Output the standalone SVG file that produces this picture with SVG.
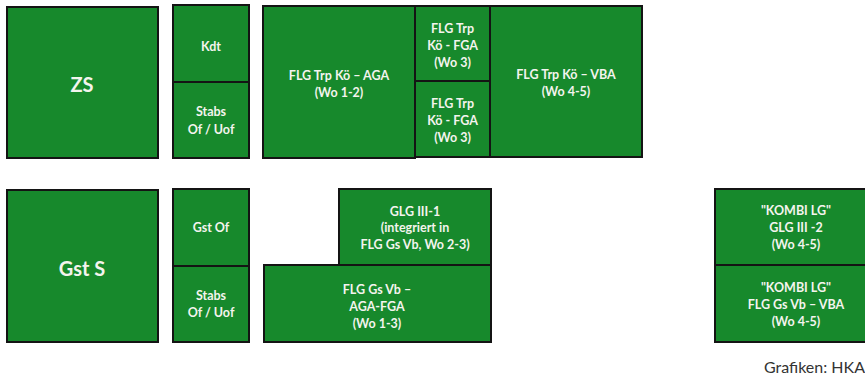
<svg xmlns="http://www.w3.org/2000/svg" width="865" height="383" viewBox="0 0 865 383">
<style>
.b{fill:#17892c;stroke:#141414;stroke-width:2}
.t{font-family:Lato,"Open Sans","Liberation Sans",sans-serif;font-size:12.5px;font-weight:700;fill:#f4f4ee;text-anchor:middle}
.big{font-size:20px}
.c{font-family:Lato,"Open Sans","Liberation Sans",sans-serif;font-size:16px;fill:#333;text-anchor:end}
</style>
<rect width="865" height="383" fill="#ffffff"/>
<g id="zs"><rect class="b" x="7" y="7" width="151" height="151"/><text class="t big" x="82" y="92">ZS</text></g>
<g id="kdt"><rect class="b" x="173" y="5" width="76" height="77"/><text class="t" x="211" y="51">Kdt</text></g>
<g id="stabs1"><rect class="b" x="173" y="82" width="76" height="76"/><text class="t" x="211" y="116">Stabs</text><text class="t" x="211" y="134">Of / Uof</text></g>
<g id="aga"><rect class="b" x="263" y="6" width="152" height="152"/><text class="t" x="339" y="80">FLG Trp Kö – AGA</text><text class="t" x="339" y="97">(Wo 1-2)</text></g>
<g id="fga1"><rect class="b" x="415" y="6" width="75" height="75"/><text class="t" x="452.5" y="33">FLG Trp</text><text class="t" x="452.5" y="50">Kö - FGA</text><text class="t" x="452.5" y="67">(Wo 3)</text></g>
<g id="fga2"><rect class="b" x="415" y="81" width="75" height="76"/><text class="t" x="452.5" y="108">FLG Trp</text><text class="t" x="452.5" y="125">Kö - FGA</text><text class="t" x="452.5" y="142">(Wo 3)</text></g>
<g id="vba"><rect class="b" x="490" y="6" width="152" height="151"/><text class="t" x="566" y="79">FLG Trp Kö – VBA</text><text class="t" x="566" y="96">(Wo 4-5)</text></g>
<g id="gsts"><rect class="b" x="7" y="190" width="151" height="152"/><text class="t big" x="82" y="276">Gst S</text></g>
<g id="gstof"><rect class="b" x="173" y="189" width="76" height="77"/><text class="t" x="211" y="232">Gst Of</text></g>
<g id="stabs2"><rect class="b" x="173" y="266" width="76" height="76"/><text class="t" x="211" y="300">Stabs</text><text class="t" x="211" y="317">Of / Uof</text></g>
<g id="glg1"><rect class="b" x="339" y="189" width="152" height="76"/><text class="t" x="415" y="216">GLG III-1</text><text class="t" x="415" y="232">(integriert in</text><text class="t" x="415" y="249">FLG Gs Vb, Wo 2-3)</text></g>
<g id="gsvb"><rect class="b" x="264" y="265" width="227" height="77"/><text class="t" x="377" y="294">FLG Gs Vb –</text><text class="t" x="377" y="311">AGA-FGA</text><text class="t" x="377" y="328">(Wo 1-3)</text></g>
<g id="kombi1"><rect class="b" x="715" y="189" width="163" height="76"/><text class="t" x="796" y="215">"KOMBI LG"</text><text class="t" x="796" y="232">GLG III -2</text><text class="t" x="796" y="249">(Wo 4-5)</text></g>
<g id="kombi2"><rect class="b" x="715" y="265" width="163" height="77"/><text class="t" x="796" y="292">"KOMBI LG"</text><text class="t" x="796" y="309">FLG Gs Vb – VBA</text><text class="t" x="796" y="326">(Wo 4-5)</text></g>
<g id="connectors"></g>
<text class="c" x="865" y="373">Grafiken: HKA</text>
</svg>
